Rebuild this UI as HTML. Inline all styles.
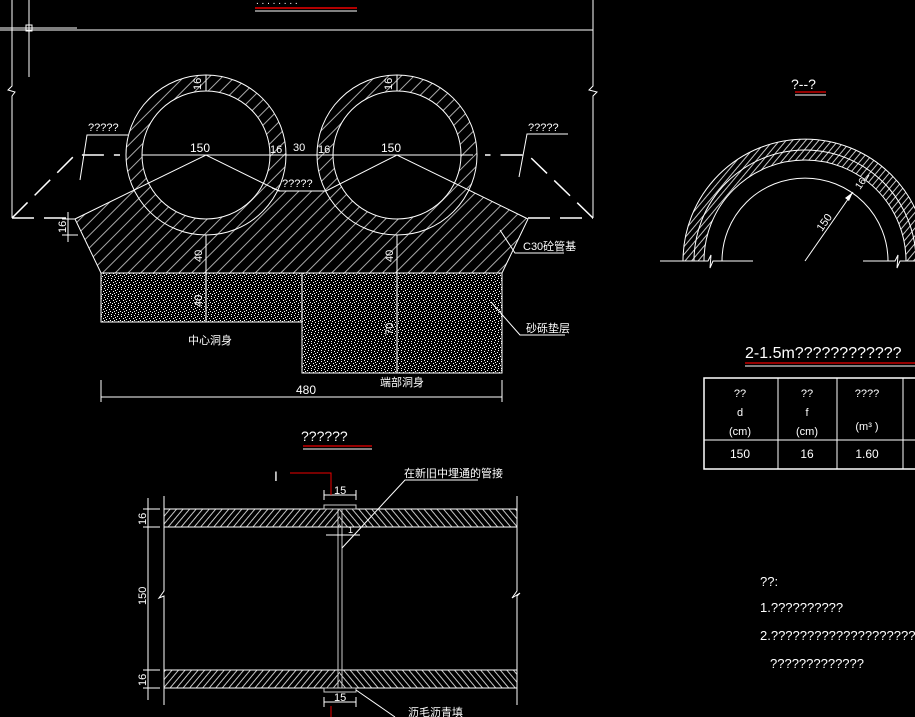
<!DOCTYPE html>
<html><head><meta charset="utf-8"><style>
html,body{margin:0;padding:0;background:#000;width:915px;height:717px;overflow:hidden}
svg{display:block}
text{font-family:"Liberation Sans","Noto Sans CJK SC",sans-serif;fill:#fff}
</style></head><body>
<svg width="915" height="717" viewBox="0 0 915 717" xmlns="http://www.w3.org/2000/svg">
<defs>
<pattern id="h1" width="9" height="9" patternUnits="userSpaceOnUse" patternTransform="rotate(45)">
<line x1="4.5" y1="0" x2="4.5" y2="9" stroke="#bbb" stroke-width="0.9"/></pattern>
<pattern id="h2" width="5" height="5" patternUnits="userSpaceOnUse" patternTransform="rotate(40)">
<line x1="2.5" y1="0" x2="2.5" y2="5" stroke="#ddd" stroke-width="0.9"/></pattern>
<pattern id="h3" width="5" height="5" patternUnits="userSpaceOnUse" patternTransform="rotate(-40)">
<line x1="2.5" y1="0" x2="2.5" y2="5" stroke="#ddd" stroke-width="0.9"/></pattern>
<pattern id="dots" width="10" height="9" patternUnits="userSpaceOnUse">
<g fill="#fff">
<rect x="1" y="1" width="1" height="1"/><rect x="4" y="0" width="1" height="1"/><rect x="7" y="1" width="1" height="1"/>
<rect x="3" y="3" width="1" height="1"/><rect x="6" y="4" width="1" height="1"/><rect x="9" y="3" width="1" height="1"/>
<rect x="0" y="5" width="1" height="1"/><rect x="2" y="6" width="1" height="1"/><rect x="5" y="7" width="1" height="1"/>
<rect x="8" y="6" width="1" height="1"/><rect x="1" y="8" width="1" height="1"/><rect x="8" y="8" width="1" height="1"/>
<rect x="5" y="2" width="1" height="1"/><rect x="4" y="5" width="1" height="1"/>
</g></pattern>
<clipPath id="baseclip">
<path d="M75,219 L206,155 L279,191 L326,191 L397,155 L528,219 L502,273 L101,273 Z"/>
<circle cx="206" cy="155" r="80"/><circle cx="397" cy="155" r="80"/>
</clipPath>
</defs>

<text x="256" y="4" font-size="10">. . . . . . . .</text>
<line x1="255" y1="8" x2="357" y2="8" stroke="#e00" stroke-width="1.5"/>
<line x1="255" y1="11" x2="357" y2="11" stroke="#fff"/>

<g stroke="#fff" stroke-width="1" fill="none">
<line x1="0" y1="30" x2="593" y2="30"/>
<polyline points="12,0 12,86 8,90 15,92 12,96 12,218"/>
<polyline points="593,0 593,86 589,90 597,92 593,96 593,218"/>
<line x1="29" y1="0" x2="29" y2="77"/>
<line x1="0" y1="28" x2="77" y2="28"/>
<rect x="26" y="25" width="6" height="6"/>
</g>

<g stroke="#fff" stroke-width="1.5" fill="none" stroke-dasharray="22,10">
<polyline points="12,218 75,155 120,155"/>
<polyline points="593,218 528,155 485,155"/>
<line x1="12" y1="218" x2="75" y2="218"/>
<line x1="528" y1="218" x2="593" y2="218"/>
</g>

<rect x="60" y="70" width="480" height="210" fill="url(#h1)" clip-path="url(#baseclip)"/>
<circle cx="206" cy="155" r="64" fill="#000" stroke="#fff"/>
<circle cx="397" cy="155" r="64" fill="#000" stroke="#fff"/>
<g stroke="#fff" fill="none">
<circle cx="206" cy="155" r="80"/><circle cx="397" cy="155" r="80"/>
<polyline points="75,219 101,273 502,273 528,219"/>
<polyline points="75,219 206,155 279,191 326,191 397,155 528,219"/>
</g>

<rect x="101" y="273" width="201" height="49" fill="url(#dots)" stroke="#fff"/>
<rect x="302" y="273" width="200" height="100" fill="url(#dots)" stroke="#fff"/>

<g stroke="#fff" fill="none" stroke-width="1">
<line x1="142" y1="155" x2="473" y2="155"/>
<line x1="206" y1="235" x2="206" y2="322"/>
<line x1="397" y1="235" x2="397" y2="373"/>
<line x1="206" y1="75" x2="206" y2="91"/>
<line x1="397" y1="75" x2="397" y2="91"/>
<line x1="101" y1="380" x2="101" y2="402"/><line x1="502" y1="380" x2="502" y2="402"/>
<line x1="101" y1="397" x2="502" y2="397"/>
<line x1="68" y1="212" x2="68" y2="242"/>
<line x1="62" y1="219" x2="75" y2="219"/><line x1="62" y1="235" x2="78" y2="235"/>
<polyline points="80,180 87,135 128,135"/>
<polyline points="519,177 527,134 568,134"/>
<polyline points="272,188 280,191 320,191"/>
<polyline points="500,230 515,253 564,253"/>
<polyline points="491,302 520,335 565,335"/>
</g>
<g font-size="11">
<text x="88" y="131">?????</text>
<text x="528" y="131">?????</text>
<text x="282" y="187">?????</text>
<text x="190" y="152" font-size="12">150</text>
<text x="381" y="152" font-size="12">150</text>
<text x="270" y="153">16</text>
<text x="293" y="151">30</text>
<text x="318" y="153">16</text>
<text x="523" y="250">C30砼管基</text>
<text x="526" y="332">砂砾垫层</text>
<text x="188" y="344">中心洞身</text>
<text x="380" y="386">端部洞身</text>
<text x="296" y="394" font-size="12">480</text>
</g>
<g font-size="11">
<text transform="translate(201,90) rotate(-90)">16</text>
<text transform="translate(392,90) rotate(-90)">16</text>
<text transform="translate(202,262) rotate(-90)">40</text>
<text transform="translate(202,307) rotate(-90)">40</text>
<text transform="translate(393,262) rotate(-90)">40</text>
<text transform="translate(393,335) rotate(-90)">70</text>
<text transform="translate(66,233) rotate(-90)">16</text>
</g>

<text x="791" y="89" font-size="14">?--?</text>
<line x1="795" y1="92" x2="826" y2="92" stroke="#e00" stroke-width="1.3"/>
<line x1="795" y1="95" x2="826" y2="95" stroke="#fff"/>
<path d="M683,261 A122,122 0 0 1 927,261 L906,261 A101,101 0 0 0 704,261 Z" fill="url(#h2)"/>
<g stroke="#fff" fill="none">
<path d="M694,261 A111,111 0 0 1 916,261"/>
<path d="M683,261 A122,122 0 0 1 927,261"/>
<path d="M704,261 A101,101 0 0 1 906,261"/>
<path d="M722,261 A83,83 0 0 1 888,261"/>
<polyline points="660,261 708,261 711,255 710,268 713,261 753,261"/>
<polyline points="863,261 895,261 898,255 897,268 900,261 915,261"/>
<line x1="805" y1="261" x2="853" y2="192"/>
<line x1="866" y1="180" x2="869" y2="175"/>
</g>
<polygon points="853,192 845,198 849,201" fill="#fff"/>
<text transform="translate(822,232) rotate(-55)" font-size="11">150</text>
<text transform="translate(860,190) rotate(-55)" font-size="10">16</text>

<text x="745" y="358" font-size="16">2-1.5m????????????</text>
<line x1="745" y1="363" x2="915" y2="363" stroke="#e00" stroke-width="1.3"/>
<line x1="745" y1="366" x2="915" y2="366" stroke="#fff"/>
<g stroke="#fff" fill="none">
<rect x="704" y="378" width="220" height="91" stroke-width="1.5"/>
<line x1="704" y1="440" x2="915" y2="440"/>
<line x1="778" y1="378" x2="778" y2="469"/>
<line x1="837" y1="378" x2="837" y2="469"/>
<line x1="903" y1="378" x2="903" y2="469"/>
</g>
<g font-size="11" text-anchor="middle">
<text x="740" y="397">??</text><text x="740" y="416">d</text><text x="740" y="435">(cm)</text>
<text x="807" y="397">??</text><text x="807" y="416">f</text><text x="807" y="435">(cm)</text>
<text x="867" y="397">????</text><text x="867" y="430">(m³ )</text>
<text x="740" y="458" font-size="12">150</text><text x="807" y="458" font-size="12">16</text><text x="867" y="458" font-size="12">1.60</text>
</g>

<text x="301" y="441" font-size="14">??????</text>
<line x1="303" y1="446" x2="372" y2="446" stroke="#e00" stroke-width="1.3"/>
<line x1="303" y1="449" x2="372" y2="449" stroke="#fff"/>
<rect x="164" y="509" width="176" height="18" fill="url(#h2)"/>
<rect x="340" y="509" width="177" height="18" fill="url(#h3)"/>
<rect x="164" y="670" width="176" height="18" fill="url(#h2)"/>
<rect x="340" y="670" width="177" height="18" fill="url(#h3)"/>
<g stroke="#fff" fill="none">
<line x1="164" y1="509" x2="517" y2="509"/><line x1="164" y1="527" x2="517" y2="527"/>
<line x1="164" y1="670" x2="517" y2="670"/><line x1="164" y1="688" x2="517" y2="688"/>
<polyline points="164,496 164,591 159,598 164,596 164,705"/>
<polyline points="517,496 517,591 512,598 520,593 517,596 517,705"/>
<rect x="338" y="509" width="4" height="179" stroke="#ccc"/>
<rect x="324" y="505" width="32" height="4" stroke="#ccc"/>
<rect x="324" y="688" width="32" height="4" stroke="#ccc"/>
<line x1="148" y1="498" x2="148" y2="700"/>
<line x1="143" y1="509" x2="160" y2="509"/><line x1="143" y1="527" x2="160" y2="527"/>
<line x1="143" y1="670" x2="160" y2="670"/><line x1="143" y1="688" x2="160" y2="688"/>
<line x1="324" y1="495" x2="356" y2="495"/><line x1="324" y1="490" x2="324" y2="500"/><line x1="356" y1="490" x2="356" y2="500"/>
<line x1="324" y1="702" x2="356" y2="702"/><line x1="324" y1="697" x2="324" y2="707"/><line x1="356" y1="697" x2="356" y2="707"/>
<line x1="326" y1="535" x2="360" y2="535"/>
<polyline points="342,548 405,480 478,480"/>
<polyline points="356,690 395,717"/>
</g>
<polyline points="290,473 331,473 331,495" stroke="#e00" fill="none"/>
<line x1="331" y1="706" x2="331" y2="717" stroke="#e00"/>
<g font-size="11">
<text x="274" y="481" font-family="Liberation Serif" font-size="14">I</text>
<text x="334" y="494">15</text>
<text x="334" y="701">15</text>
<text x="348" y="533" font-size="9">1</text>
<text x="404" y="477">在新旧中埋通的管接</text>
<text x="408" y="716">沥毛沥青填</text>
<text transform="translate(146,525) rotate(-90)">16</text>
<text transform="translate(146,605) rotate(-90)">150</text>
<text transform="translate(146,686) rotate(-90)">16</text>
</g>

<g font-size="13">
<text x="760" y="586">??:</text>
<text x="760" y="612">1.??????????</text>
<text x="760" y="640">2.?????????????????????</text>
<text x="770" y="668">?????????????</text>
</g>
</svg>
</body></html>
